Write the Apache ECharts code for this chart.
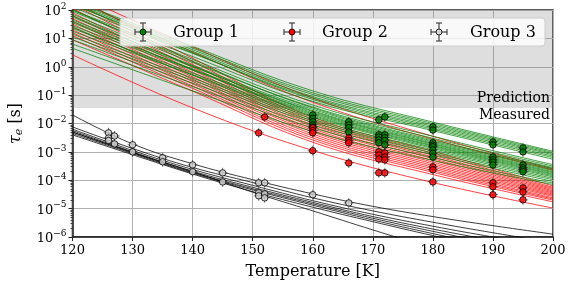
<!DOCTYPE html>
<html>
<head>
<meta charset="utf-8">
<script src="https://cdn.jsdelivr.net/npm/echarts@6/dist/echarts.min.js"></script>
<style>
html,body{margin:0;padding:0;background:#fff;}
#chart{width:571px;height:286px;}
</style>
</head>
<body>
<div id="chart"></div>
<script>
// All tau values are stored as log10(tau / s).
const curveT = [120, 140, 160, 180, 200];
const group1Curves = [
  [2.35, 0.72, -0.85, -1.95, -2.98],
  [2.30, 0.66, -0.92, -2.00, -3.02],
  [2.25, 0.60, -0.98, -2.05, -3.06],
  [2.20, 0.54, -1.05, -2.10, -3.10],
  [2.10, 0.47, -1.10, -2.15, -3.15],
  [2.20, 0.49, -1.15, -2.20, -3.20],
  [2.00, 0.36, -1.22, -2.25, -3.26],
  [1.95, 0.26, -1.35, -2.45, -3.45],
  [1.85, 0.15, -1.42, -2.52, -3.50],
  [2.00, 0.20, -1.45, -2.58, -3.55],
  [1.75, 0.05, -1.50, -2.62, -3.58],
  [1.65, 0.00, -1.55, -2.66, -3.62],
  [1.80, 0.02, -1.58, -2.70, -3.66],
  [1.55, -0.08, -1.62, -2.73, -3.70],
  [1.45, -0.12, -1.66, -2.77, -3.73],
  [1.60, -0.10, -1.70, -2.80, -3.77],
  [1.35, -0.22, -1.74, -2.84, -3.80],
  [1.25, -0.28, -1.78, -2.88, -3.84],
  [1.40, -0.30, -1.84, -2.93, -3.88],
  [1.15, -0.40, -1.90, -2.98, -3.93],
  [1.05, -0.48, -1.96, -3.04, -3.98],
  [0.95, -0.58, -2.05, -3.10, -4.04],
  [0.80, -0.70, -2.15, -3.20, -4.10],
  [0.65, -0.85, -2.28, -3.30, -4.15]
];
const group2Curves = [
  [2.60, 0.70, -1.10, -2.45, -3.60],
  [2.40, 0.52, -1.25, -2.55, -3.64],
  [2.50, 0.30, -1.78, -2.98, -4.20],
  [2.30, 0.18, -1.85, -3.05, -4.25],
  [2.20, 0.08, -1.92, -3.12, -4.29],
  [2.05, -0.02, -1.98, -3.18, -4.33],
  [1.90, -0.12, -2.05, -3.24, -4.37],
  [1.80, -0.20, -2.11, -3.30, -4.41],
  [1.70, -0.28, -2.18, -3.36, -4.45],
  [1.60, -0.36, -2.24, -3.42, -4.49],
  [1.50, -0.44, -2.30, -3.48, -4.53],
  [1.40, -0.52, -2.37, -3.54, -4.57],
  [1.30, -0.60, -2.44, -3.60, -4.62],
  [1.20, -0.68, -2.51, -3.66, -4.66],
  [1.10, -0.76, -2.58, -3.72, -4.70],
  [0.95, -0.86, -2.66, -3.80, -4.76],
  [0.42, -1.45, -2.95, -4.08, -4.98]
];
const group3T = [120, 130, 140, 150, 160, 170, 180, 190, 200];
const group3Curves = [
  [-1.70, -2.72, -3.42, -3.98, -4.48, -4.92, -5.28, -5.60, -5.90],
  [-2.12, -2.88, -3.55, -4.08, -4.62, -5.08, -5.48, -5.85, -6.20],
  [-2.20, -2.95, -3.62, -4.18, -4.72, -5.20, -5.62, -6.00, -6.35],
  [-2.25, -3.00, -3.68, -4.25, -4.78, -5.28, -5.72, -6.12, -6.50],
  [-2.30, -3.03, -3.72, -4.30, -4.83, -5.34, -5.80, -6.22, -6.60],
  [-2.35, -3.06, -3.75, -4.34, -4.88, -5.40, -5.88, -6.32, -6.75],
  [-2.40, -3.10, -3.78, -4.40, -4.95, -5.46, -5.95, -6.40, -6.85],
  [-2.30, -3.02, -3.70, -4.42, -5.08, -5.75, -6.40, -7.00, -7.60]
];
const group1Points = [
  [160,-1.70],[160,-1.82],[160,-1.94],[160,-2.05],[160,-2.12],
  [166,-1.94],[166,-2.05],[166,-2.15],[166,-2.30],
  [171,-1.87],[171,-2.40],[171,-2.48],[171,-2.58],[171,-2.68],
  [172,-1.77],[172,-2.40],[172,-2.50],[172,-2.60],[172,-2.75],
  [180,-2.12],[180,-2.23],[180,-2.68],[180,-2.76],[180,-2.82],[180,-2.93],[180,-3.05],[180,-3.18],
  [190,-2.65],[190,-2.75],[190,-3.18],[190,-3.28],[190,-3.36],[190,-3.46],
  [195,-2.86],[195,-3.00],[195,-3.46],[195,-3.56],[195,-3.63],[195,-3.70]
];
const group2Points = [
  [151,-2.33],[152,-1.77],
  [160,-2.15],[160,-2.25],[160,-2.33],[160,-2.96],
  [166,-2.51],[166,-2.60],[166,-2.68],[166,-3.39],
  [171,-3.00],[171,-3.11],[171,-3.25],[171,-3.74],
  [172,-3.04],[172,-3.18],[172,-3.28],[172,-3.74],
  [180,-3.53],[180,-3.63],[180,-4.06],
  [190,-4.09],[190,-4.23],[190,-4.51],
  [195,-4.27],[195,-4.41],[195,-4.69]
];
const group3Points = [
  [126,-2.33],[126,-2.51],[126,-2.60],[127,-2.44],[127,-2.72],
  [130,-2.75],[130,-3.00],[135,-3.21],[135,-3.35],[140,-3.46],[140,-3.70],
  [145,-3.74],[145,-4.06],[151,-4.09],[151,-4.44],[151,-4.55],
  [152,-4.09],[152,-4.48],[152,-4.62],[160,-4.51],[166,-4.80]
];
const predictionBoundary = -1.454; // log10(tau) where shaded prediction region starts
const groupNames = ['Group 1', 'Group 2', 'Group 3'];
const groupColors = ['#008000', '#ff0000', '#d3d3d3'];
const minorFactors = [2, 3, 4, 5, 6, 7, 8, 9];

const FONT = 'DejaVu Serif';
const minorTicks = [];
for (let n = -6; n < 2; n++) minorFactors.forEach(f => minorTicks.push(n + Math.log10(f)));

const series = [];
function addCurves(curves, temps, color, opacity, width) {
  curves.forEach(c => {
    series.push({
      type: 'line', data: temps.map((t, i) => [t, c[i]]),
      smooth: 0.4, showSymbol: false, silent: true, clip: true, z: 2,
      lineStyle: { color: color, width: width, opacity: opacity }
    });
  });
}
// shaded prediction region
series.push({
  type: 'line', data: [], silent: true, z: 1,
  markArea: { silent: true, itemStyle: { color: 'rgba(128,128,128,0.26)' },
    data: [[{ yAxis: predictionBoundary }, { yAxis: 2 }]] }
});
addCurves(group2Curves, curveT, '#ff0000', 0.75, 1);
addCurves(group1Curves, curveT, '#008000', 0.75, 1);
addCurves(group3Curves, group3T, '#000000', 0.85, 0.9);

const errPath = 'path://M4.6,0H5.4V10H4.6ZM0,4.6H10V5.4H0Z';
[group1Points, group2Points, group3Points].forEach((pts, gi) => {
  series.push({
    type: 'scatter', data: pts, symbol: errPath, symbolSize: 10, silent: true, z: 5,
    itemStyle: { color: '#333' }
  });
  series.push({
    type: 'scatter', name: groupNames[gi], data: pts, symbol: 'circle', symbolSize: 6.5, silent: true, z: 6,
    itemStyle: { color: groupColors[gi], borderColor: '#000', borderWidth: 1 }
  });
});

// legend drawn as graphics (errorbar glyphs)
const legendEls = [{
  type: 'rect', shape: { x: 120, y: 18, width: 425, height: 28, r: 3 },
  style: { fill: 'rgba(255,255,255,0.8)', stroke: '#cccccc', lineWidth: 1 }, z: 100
}];
const legendX = [143, 292, 439];
const legendTX = [173, 322, 470];
const cy = 32;
legendX.forEach((cx, i) => {
  const st = { stroke: '#444', lineWidth: 1.2 };
  const L = (x1, y1, x2, y2) => ({ type: 'line', shape: { x1, y1, x2, y2 }, style: st, z: 101 });
  legendEls.push(L(cx, cy - 9, cx, cy + 9), L(cx - 8, cy, cx + 8, cy),
    L(cx - 3, cy - 9, cx + 3, cy - 9), L(cx - 3, cy + 9, cx + 3, cy + 9),
    L(cx - 8, cy - 3, cx - 8, cy + 3), L(cx + 8, cy - 3, cx + 8, cy + 3));
  legendEls.push({ type: 'circle', shape: { cx, cy, r: 3 },
    style: { fill: groupColors[i], stroke: '#000', lineWidth: 0.8 }, z: 102 });
  legendEls.push({ type: 'text', x: legendTX[i], y: cy + 1, z: 102,
    style: { text: groupNames[i], font: '16px "' + FONT + '"', fill: '#000', verticalAlign: 'middle', align: 'left' } });
});
legendEls.push({ type: 'text', x: 550, y: 98, z: 50,
  style: { text: 'Prediction', font: '14px "' + FONT + '"', fill: '#000', align: 'right', verticalAlign: 'middle' } });
legendEls.push({ type: 'text', x: 550, y: 115, z: 50,
  style: { text: 'Measured', font: '14px "' + FONT + '"', fill: '#000', align: 'right', verticalAlign: 'middle' } });

const chart = echarts.init(document.getElementById('chart'), null, { renderer: 'canvas' });
chart.setOption({
  animation: false,
  backgroundColor: '#fff',
  grid: { left: 71, right: 18, top: 10, bottom: 49, show: true, borderColor: '#222', borderWidth: 1.5, backgroundColor: 'transparent' },
  xAxis: {
    type: 'value', min: 120, max: 200, interval: 10,
    axisLine: { show: true, onZero: false, lineStyle: { color: '#222', width: 1.5 } },
    axisTick: { show: true, length: 4, lineStyle: { color: '#222', width: 1 } },
    splitLine: { show: true, lineStyle: { color: '#b0b0b0', width: 1 } },
    axisLabel: { fontSize: 13, fontFamily: FONT, color: '#000', margin: 7 },
    name: 'Temperature [K]', nameLocation: 'middle', nameGap: 27,
    nameTextStyle: { fontSize: 16, fontFamily: FONT, color: '#000' }
  },
  yAxis: [{
    type: 'value', min: -6, max: 2, interval: 1,
    axisLine: { show: true, onZero: false, lineStyle: { color: '#222', width: 1.5 } },
    axisTick: { show: true, length: 4, lineStyle: { color: '#222', width: 1 } },
    splitLine: { show: true, lineStyle: { color: '#b0b0b0', width: 1 } },
    axisLabel: {
      margin: 6, color: '#000',
      formatter: v => '{b|10}{s|' + (v < 0 ? '\u2212' + (-v) : v) + '}',
      rich: {
        b: { fontSize: 13, fontFamily: FONT, color: '#000', lineHeight: 16, verticalAlign: 'bottom' },
        s: { fontSize: 9, fontFamily: FONT, color: '#000', lineHeight: 16, verticalAlign: 'top', padding: [0, 0, 6, 0] }
      }
    },
    name: '{t|\u03c4}{e|e} [s]', nameLocation: 'middle', nameGap: 48, nameRotate: 90,
    nameTextStyle: {
      fontSize: 16, fontFamily: FONT, color: '#000',
      rich: {
        t: { fontSize: 16, fontFamily: FONT, fontStyle: 'italic', color: '#000' },
        e: { fontSize: 11, fontFamily: FONT, fontStyle: 'italic', color: '#000', padding: [6, 0, 0, 0] }
      }
    }
  }, {
    type: 'value', min: -6, max: 2, interval: 1, position: 'left',
    axisLine: { show: false, onZero: false }, splitLine: { show: false }, axisLabel: { show: false },
    axisTick: { show: true, length: 2, customValues: minorTicks, lineStyle: { color: '#222', width: 0.8 } }
  }],
  graphic: legendEls,
  series: series
});
</script>
</body>
</html>
